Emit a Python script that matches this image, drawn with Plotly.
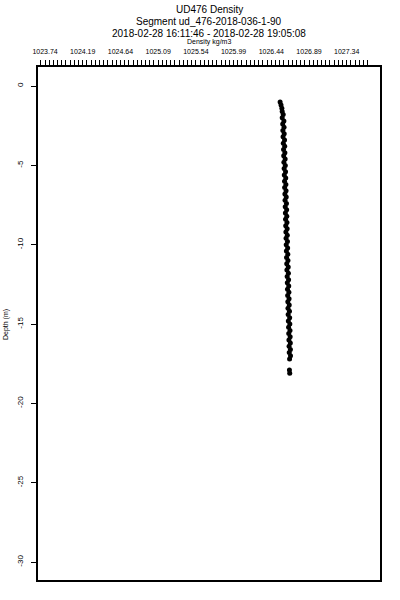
import plotly.graph_objects as go

depth_m = [-1.0, -1.2, -1.4, -1.6, -1.8, -2.0, -2.2, -2.4, -2.6, -2.8,
           -3.0, -3.2, -3.4, -3.6, -3.8, -4.0, -4.2, -4.4, -4.6, -4.8,
           -5.0, -5.2, -5.4, -5.6, -5.8, -6.0, -6.2, -6.4, -6.6, -6.8,
           -7.0, -7.2, -7.4, -7.6, -7.8, -8.0, -8.2, -8.4, -8.6, -8.8,
           -9.0, -9.2, -9.4, -9.6, -9.8, -10.0, -10.2, -10.4, -10.6, -10.8,
           -11.0, -11.2, -11.4, -11.6, -11.8, -12.0, -12.2, -12.4, -12.6, -12.8,
           -13.0, -13.2, -13.4, -13.6, -13.8, -14.0, -14.2, -14.4, -14.6, -14.8,
           -15.0, -15.2, -15.4, -15.6, -15.8, -16.0, -16.2, -16.4, -16.6, -16.8,
           -17.0, -17.2, -17.9, -18.1]

density = [1026.545, 1026.556, 1026.566, 1026.570, 1026.582, 1026.570, 1026.590, 1026.576, 1026.592, 1026.578,
           1026.594, 1026.580, 1026.598, 1026.583, 1026.600, 1026.586, 1026.602, 1026.588, 1026.605, 1026.590,
           1026.607, 1026.593, 1026.610, 1026.595, 1026.612, 1026.598, 1026.614, 1026.599, 1026.616, 1026.602,
           1026.618, 1026.604, 1026.621, 1026.606, 1026.623, 1026.608, 1026.625, 1026.610, 1026.627, 1026.612,
           1026.629, 1026.614, 1026.631, 1026.616, 1026.633, 1026.618, 1026.635, 1026.620, 1026.637, 1026.622,
           1026.639, 1026.624, 1026.642, 1026.626, 1026.644, 1026.629, 1026.646, 1026.631, 1026.648, 1026.633,
           1026.650, 1026.635, 1026.652, 1026.637, 1026.654, 1026.639, 1026.657, 1026.641, 1026.659, 1026.643,
           1026.661, 1026.646, 1026.663, 1026.648, 1026.665, 1026.650, 1026.667, 1026.652, 1026.668, 1026.654,
           1026.669, 1026.658, 1026.656, 1026.660]

x_tick_vals = [1023.74, 1024.19, 1024.64, 1025.09, 1025.54, 1025.99, 1026.44, 1026.89, 1027.34]
x_tick_text = ["1023.74", "1024.19", "1024.64", "1025.09", "1025.54", "1025.99", "1026.44", "1026.89", "1027.34"]
y_tick_vals = [0, -5, -10, -15, -20, -25, -30]
y_tick_text = ["0", "-5", "-10", "-15", "-20", "-25", "-30"]

title_lines = ["UD476 Density", "Segment ud_476-2018-036-1-90",
               "2018-02-28 16:11:46 - 2018-02-28 19:05:08"]
x_title = "Density kg/m3"
y_title = "Depth (m)"

minor_vals = [round(1023.69 + 0.05 * i, 2) for i in range(79)]

fig = go.Figure()
fig.add_trace(go.Scatter(
    x=density, y=depth_m, mode="markers",
    marker=dict(color="black", size=5, line=dict(width=0)),
    showlegend=False, hoverinfo="skip"))

font_family = "Liberation Sans, Arial, sans-serif"

fig.update_layout(
    width=400, height=600,
    margin=dict(l=38, r=20, t=67, b=20),
    paper_bgcolor="white", plot_bgcolor="white",
    font=dict(family=font_family, color="black", size=7),
    xaxis=dict(
        side="top", range=[1023.656, 1027.737],
        tickmode="array", tickvals=x_tick_vals, ticktext=x_tick_text,
        ticks="outside", ticklen=5, tickwidth=1, tickcolor="black",
        minor=dict(tickvals=minor_vals, ticks="outside", ticklen=5, tickwidth=1, tickcolor="black"),
        showline=True, linecolor="black", linewidth=1.5, mirror=True,
        showgrid=False, zeroline=False,
        tickfont=dict(size=7, color="black"),
        ticklabelstandoff=3,
    ),
    yaxis=dict(
        range=[-31.13, 1.2],
        tickmode="array", tickvals=y_tick_vals, ticktext=y_tick_text,
        ticks="outside", ticklen=5, tickwidth=1, tickcolor="black",
        tickangle=-90,
        showline=True, linecolor="black", linewidth=1.5, mirror=True,
        showgrid=False, zeroline=False,
        tickfont=dict(size=8, color="black"),
        ticklabelstandoff=5,
    ),
)

ann_y = [10, 22, 34]
for txt, yy in zip(title_lines, ann_y):
    fig.add_annotation(text=txt, xref="paper", yref="paper", x=0.5,
                       y=1 + (67 - yy) / 513, showarrow=False,
                       font=dict(size=10, family=font_family), xanchor="center", yanchor="middle")
fig.add_annotation(text=x_title, xref="paper", yref="paper", x=0.5,
                   y=1 + (67 - 42) / 513, showarrow=False,
                   font=dict(size=7, family=font_family), xanchor="center", yanchor="middle")
fig.add_annotation(text=y_title, xref="paper", yref="paper", x=-(38 - 6) / 342,
                   y=(580 - 325) / 513, showarrow=False, textangle=-90,
                   font=dict(size=7, family=font_family), xanchor="center", yanchor="middle")

fig.write_html("out.html", config={"displayModeBar": False},
               post_script="document.body.style.margin='0';")
